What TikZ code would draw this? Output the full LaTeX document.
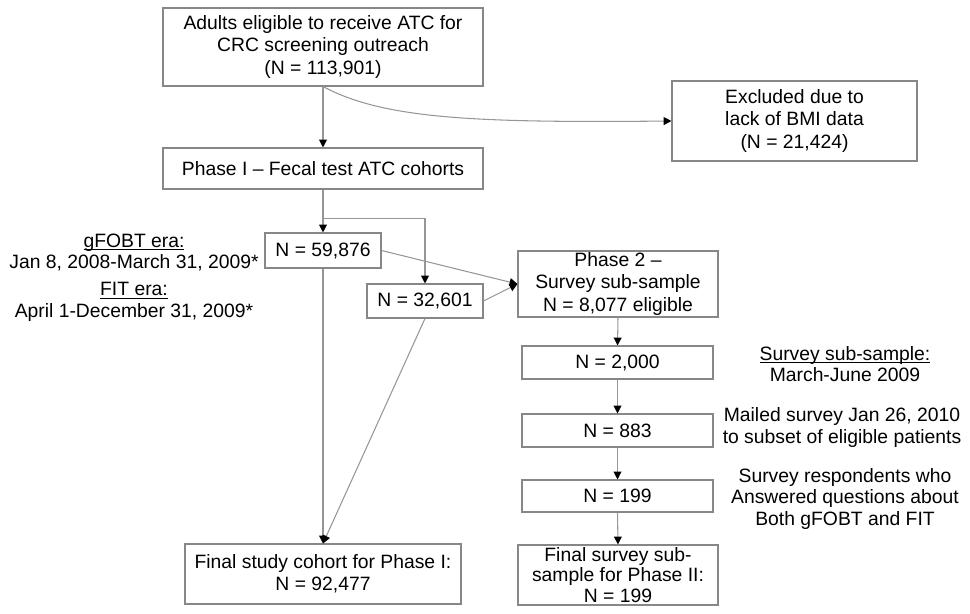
\documentclass[tikz,border=0pt]{standalone}
\usepackage{fontspec}
\setmainfont{Liberation Sans}
\usetikzlibrary{arrows.meta}
\definecolor{linegray}{RGB}{150,150,150}
\definecolor{boxgray}{RGB}{135,135,135}
\newcommand{\underlined}[1]{\setbox0\hbox{#1}\rlap{\rule[-1.6pt]{\wd0}{0.55pt}}\box0}

\begin{document}
\begin{tikzpicture}[x=0.02cm, y=-0.02cm,
    box/.style={draw=boxgray, line width=0.6pt, inner sep=0pt, align=center,
        font=\fontsize{11}{12.6}\selectfont},
    size/.style 2 args={minimum width=#1*0.02cm, minimum height=#2*0.02cm},
    note/.style={inner sep=0pt, align=center, font=\fontsize{11}{12.2}\selectfont},
    conn/.style={draw=linegray, line width=0.6pt,
        -{Triangle[length=4.5pt, width=4.5pt, color=black]}}]

    % Define the page frame
    \useasboundingbox (0,0) rectangle (970,614);

    % Draw the Phase I boxes
    \node[box, size={320}{78}] (adults) at (323,47)
        {Adults eligible to receive ATC for\\ CRC screening outreach\\ (N = 113,901)};
    \node[box, size={245}{80}] (excluded) at (794.5,121)
        {Excluded due to\\ lack of BMI data\\ (N = 21,424)};
    \node[box, size={320}{41}] (phaseone) at (323,168.5) {Phase I – Fecal test ATC cohorts};
    \node[box, size={116}{35}] (ngfobt) at (323,250.5) {N = 59,876};
    \node[box, size={116}{34}] (nfit) at (425,301) {N = 32,601};
    \node[box, size={276}{60}] (finalone) at (323,574)
        {Final study cohort for Phase I:\\ N = 92,477};

    % Draw the Phase 2 boxes
    \node[box, size={200}{66}] (phasetwo) at (618,284)
        {Phase 2 –\\ Survey sub-sample\\ N = 8,077 eligible};
    \node[box, size={191}{33}] (nsample) at (617.5,362.5) {N = 2,000};
    \node[box, size={191}{33}] (nmailed) at (617.5,430.5) {N = 883};
    \node[box, size={191}{32}] (nresp) at (617.5,496) {N = 199};
    \node[box, size={200}{60}, font=\fontsize{11}{11.8}\selectfont] (finaltwo) at (618,575)
        {Final survey sub-\\ sample for Phase II:\\ N = 199};

    % Add the side notes
    \node[note] (gfobtera) at (134,252.5) {\underlined{gFOBT era:}\\ Jan 8, 2008-March 31, 2009*};
    \node[note] (fitera) at (134,302) {\underlined{FIT era:}\\ April 1-December 31, 2009*};
    \node[note] (surveyera) at (845,364) {\underlined{Survey sub-sample:}\\ March-June 2009};
    \node[note] (mailednote) at (842,427.5) {Mailed survey Jan 26, 2010\\ to subset of eligible patients};
    \node[note] (respnote) at (845,499)
        {Survey respondents who\\ Answered questions about\\ Both gFOBT and FIT};

    % Draw the connectors
    \draw[conn] (adults.south) -- (phaseone.north);
    \draw[conn] (adults.south) .. controls +(60,32) and +(-200,2) .. (excluded.west);
    \path (phaseone.south) ++(0,29) coordinate (split);
    \draw[conn] (phaseone.south) -- (ngfobt.north);
    \draw[conn] (split) -| (nfit.north);
    \draw[conn] (ngfobt.east) -- (phasetwo.west);
    \draw[conn] (nfit.east) -- (phasetwo.west);
    \draw[conn] (ngfobt.south) -- (finalone.north);
    \draw[conn] (nfit.south) -- (finalone.north);
    \foreach \a/\b in {phasetwo/nsample, nsample/nmailed, nmailed/nresp, nresp/finaltwo} {
        \draw[conn] (\a.south) -- (\b.north);
    }

\end{tikzpicture}
\end{document}
